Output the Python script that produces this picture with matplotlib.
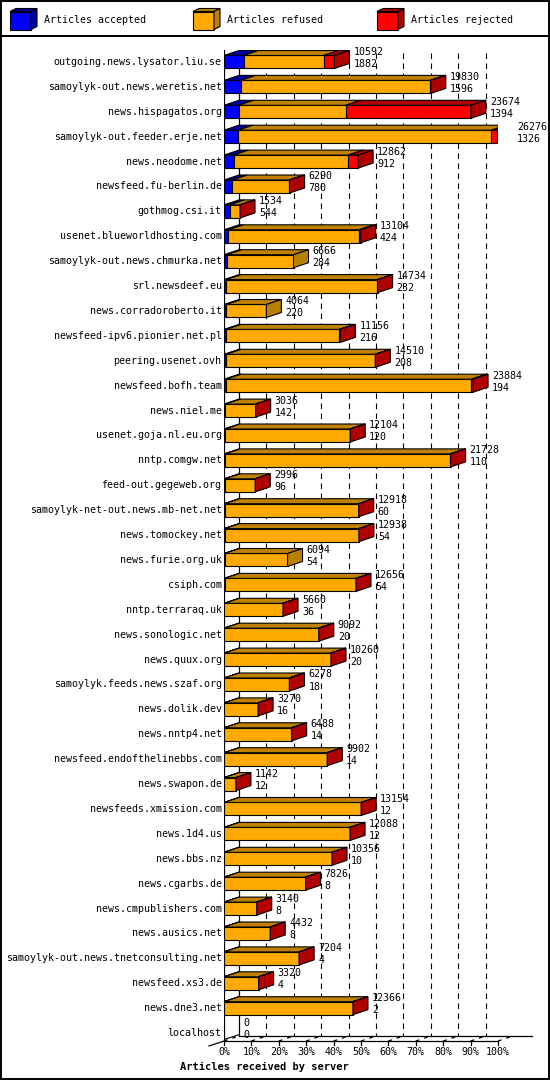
""" innreport style 3D bar chart: articles received by server """

import matplotlib
matplotlib.use("Agg")
from matplotlib import pyplot as plt
from matplotlib.patches import Polygon, Rectangle

servers = [
    "outgoing.news.lysator.liu.se", "samoylyk-out.news.weretis.net", "news.hispagatos.org",
    "samoylyk-out.feeder.erje.net", "news.neodome.net", "newsfeed.fu-berlin.de", "gothmog.csi.it",
    "usenet.blueworldhosting.com", "samoylyk-out.news.chmurka.net", "srl.newsdeef.eu",
    "news.corradoroberto.it", "newsfeed-ipv6.pionier.net.pl", "peering.usenet.ovh",
    "newsfeed.bofh.team", "news.niel.me", "usenet.goja.nl.eu.org", "nntp.comgw.net",
    "feed-out.gegeweb.org", "samoylyk-net-out.news.mb-net.net", "news.tomockey.net",
    "news.furie.org.uk", "csiph.com", "nntp.terraraq.uk", "news.sonologic.net", "news.quux.org",
    "samoylyk.feeds.news.szaf.org", "news.dolik.dev", "news.nntp4.net",
    "newsfeed.endofthelinebbs.com", "news.swapon.de", "newsfeeds.xmission.com", "news.1d4.us",
    "news.bbs.nz", "news.cgarbs.de", "news.cmpublishers.com", "news.ausics.net",
    "samoylyk-out.news.tnetconsulting.net", "newsfeed.xs3.de", "news.dne3.net", "localhost",
]
total = [10592, 19830, 23674, 26276, 12862, 6290, 1534, 13104, 6666, 14734, 4064, 11156, 14510,
         23884, 3036, 12104, 21728, 2996, 12918, 12938, 6094, 12656, 5660, 9092, 10260, 6278,
         3270, 6488, 9902, 1142, 13154, 12088, 10356, 7826, 3140, 4432, 7204, 3320, 12366, 0]
accepted = [1882, 1596, 1394, 1326, 912, 780, 544, 424, 284, 232, 220, 216, 208, 194, 142, 120,
            110, 96, 60, 54, 54, 54, 36, 20, 20, 18, 16, 14, 14, 12, 12, 12, 10, 8, 8, 8, 4, 4, 2, 0]
# estimated from the red segment widths
rejected = [1050, 80, 12000, 640, 960, 20, 10, 140, 0, 20, 0, 100, 20, 150, 10, 10, 10, 10, 10,
            10, 0, 10, 10, 10, 10, 10, 10, 10, 10, 10, 10, 10, 10, 10, 10, 10, 10, 10, 10, 0]
ticks = list(range(0, 101, 10))

BLUE, BLUE_D = "#0000ff", "#0000a8"
ORANGE, ORANGE_T, ORANGE_D = "#ffaa00", "#c08000", "#b88000"
RED, RED_D = "#ff0000", "#b00000"
FONT = "DejaVu Sans Mono"
FS = 7.2

W, H = 550, 1080
fig = plt.figure(figsize=(W / 100, H / 100), dpi=100)

# pixel overlay for frame, legend and title
ov = fig.add_axes([0, 0, 1, 1])
ov.set_xlim(0, W)
ov.set_ylim(H, 0)
ov.axis("off")
ov.add_patch(Rectangle((0.5, 0.5), W - 1.5, H - 1.5, fill=False, lw=1.4, ec="black"))
ov.plot([0, W], [36, 36], color="black", lw=1.4)


def cube(ax, x, y, w, h, dx, dy, front, dark):
    ax.add_patch(Rectangle((x, y), w, h, fc=front, ec="black", lw=0.8))
    ax.add_patch(Polygon([(x, y), (x + w, y), (x + w + dx, y - dy), (x + dx, y - dy)],
                         fc=dark, ec="black", lw=0.8))
    ax.add_patch(Polygon([(x + w, y), (x + w, y + h), (x + w + dx, y + h - dy), (x + w + dx, y - dy)],
                         fc=dark, ec="black", lw=0.8))


for lx, name, c, d in [(10, "Articles accepted", BLUE, BLUE_D),
                       (193, "Articles refused", ORANGE, ORANGE_T),
                       (377, "Articles rejected", RED, RED_D)]:
    cube(ov, lx, 11.5, 21, 18, 6, 3, c, d)
    ov.text(lx + 34, 20, name, family=FONT, fontsize=FS, va="center")

ov.text(180, 1067, "Articles received by server", family=FONT, fontsize=FS + 0.3,
        weight="bold", va="center")

# main axes: x in percent of max total, y in rows
pitch = 24.9
top_px, n = 62, len(servers)
y_top = top_px - pitch / 2
y_bot = top_px + pitch * (n - 1) + pitch / 2
ax = fig.add_axes([224 / W, 1 - y_bot / H, 274 / W, (y_bot - y_top) / H])
ax.set_xlim(0, 100)
ax.set_ylim(n - 0.5, -0.5)
ax.axis("off")
px_x = 100 / 274
px_y = 1 / pitch
dx, dy = 15 * px_x, 5 * px_y
hh = 6.5 * px_y
row_of = lambda p: (p - top_px) * px_y

top_r, back_floor, front_floor = row_of(43), row_of(1036), row_of(1041)
for t in ticks[1:-1]:
    ax.plot([t + dx, t + dx], [top_r, back_floor], color="black", lw=0.8, ls=(0, (5, 4)), zorder=1)
for xx in (0, dx, 100 + dx):
    ax.plot([xx, xx], [top_r, front_floor if xx == 0 else back_floor], color="black", lw=0.9, zorder=1)
ax.plot([0, 100], [front_floor] * 2, color="black", lw=0.9, clip_on=False)
ax.plot([dx, 100 + dx + 7 * px_x * 2.7], [back_floor] * 2, color="black", lw=0.9, clip_on=False)
ax.plot([-15 * px_x, 0], [front_floor + dy, front_floor], color="black", lw=0.9, clip_on=False)
for t in ticks:
    ax.plot([t, t], [front_floor, front_floor + 4 * px_y], color="black", lw=0.9, clip_on=False)
    ax.plot([t, t + dx], [front_floor, back_floor], color="black", lw=0.9,
            ls=(0, (3, 4)), clip_on=False)
    ax.text(t, row_of(1052), f"{t}%", family=FONT, fontsize=FS, ha="center", va="center",
            clip_on=False)

vmax = max(total)
for i, name in enumerate(servers):
    ax.text(-0.9, i, name, family=FONT, fontsize=FS, ha="right", va="center", clip_on=False)
    refused = total[i] - accepted[i] - rejected[i]
    segs = [(accepted[i], BLUE, BLUE_D), (refused, ORANGE, ORANGE_T), (rejected[i], RED, RED_D)]
    x = 0.0
    last_dark = ORANGE_D
    y0 = i - hh
    for val, c, d in segs:
        if val <= 0:
            continue
        w = val / vmax * 100
        ax.add_patch(Rectangle((x, y0), w, 2 * hh, fc=c, ec="black", lw=0.8, zorder=3))
        ax.add_patch(Polygon([(x, y0), (x + w, y0), (x + w + dx, y0 - dy), (x + dx, y0 - dy)],
                             fc=d, ec="black", lw=0.8, zorder=3))
        last_dark = RED_D if c == RED else (ORANGE_D if c == ORANGE else BLUE_D)
        x += w
    if total[i] > 0:
        ax.add_patch(Polygon([(x, y0), (x, i + hh), (x + dx, i + hh - dy), (x + dx, y0 - dy)],
                             fc=last_dark, ec="black", lw=0.8, zorder=3))
    else:
        ax.plot([0, dx], [i + hh, i + hh - dy], color="black", lw=0.8, zorder=3)
    tx = x + dx + 4 * px_x
    ax.text(tx, i - 10 * px_y, str(total[i]), family=FONT, fontsize=FS, va="center", clip_on=False)
    ax.text(tx, i + 2 * px_y, str(accepted[i]), family=FONT, fontsize=FS, va="center", clip_on=False)

fig.savefig("out.png", dpi=100)
